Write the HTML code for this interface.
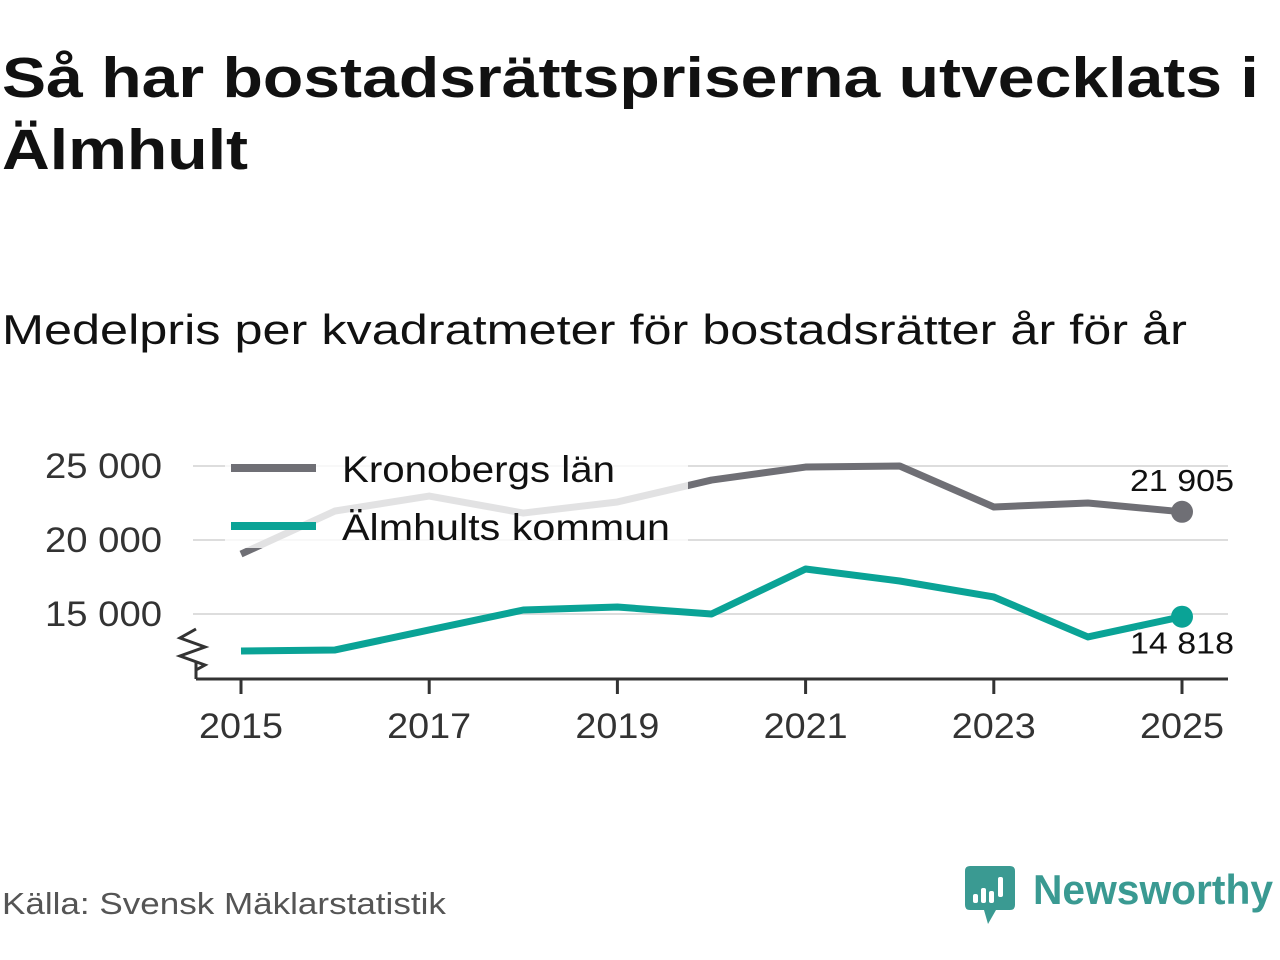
<!DOCTYPE html>
<html><head><meta charset="utf-8">
<style>
body{margin:0;width:1280px;height:960px;background:#fff;font-family:"Liberation Sans",sans-serif;overflow:hidden;position:relative}
#title{position:absolute;left:2px;top:42px;font-size:57px;font-weight:bold;line-height:72px;color:#111;transform:scaleX(1.16);transform-origin:0 0;white-space:nowrap}
#sub{position:absolute;left:2px;top:306px;font-size:42px;color:#111;transform:scaleX(1.2);transform-origin:0 0;white-space:nowrap}
#src{position:absolute;left:2px;top:886px;font-size:31px;color:#555;transform:scaleX(1.13);transform-origin:0 0;white-space:nowrap}
svg{position:absolute;left:0;top:0}
</style></head><body>
<div id="title">Så har bostadsrättspriserna utvecklats i<br>Älmhult</div>
<div id="sub">Medelpris per kvadratmeter för bostadsrätter år för år</div>
<div id="src">Källa: Svensk Mäklarstatistik</div>
<svg id="chart" width="1280" height="960"></svg>
<script>
const years=[2015,2016,2017,2018,2019,2020,2021,2022,2023,2024,2025];
const kronoberg=[19050,21960,22970,21820,22570,24050,24930,25000,22230,22500,21905];
const almhult=[12500,12570,13920,15270,15470,15000,18040,17230,16150,13450,14818];
const yTicks=[15000,20000,25000];
const yTickLabels=["15 000","20 000","25 000"];
const xTicks=[2015,2017,2019,2021,2023,2025];
const endLabels=["21 905","14 818"];
const NS="http://www.w3.org/2000/svg";
const svg=document.getElementById('chart');
const x=v=>241+(v-2015)*94.1;
const y=v=>540-(v-20000)*0.0148;
function mk(t,a,p){const e=document.createElementNS(NS,t);for(const k in a)e.setAttribute(k,a[k]);(p||svg).appendChild(e);return e;}
yTicks.forEach((t,i)=>{
 const g=mk('line',{x1:193,x2:1228,y1:y(t),y2:y(t),stroke:'#ddd','stroke-width':2});
 
 
 const l=mk('text',{x:162,y:y(t)+12,'text-anchor':'end','font-size':35,fill:'#333',textLength:117,lengthAdjust:'spacingAndGlyphs'});l.textContent=yTickLabels[i];
 
 
});
const ax=mk('path',{d:'M196 679H1228',stroke:'#333','stroke-width':3,fill:'none'});


const br=mk('path',{d:'M196 679V661M196 629L180 638L205 647L180 656L205 665L196 670',stroke:'#333','stroke-width':3,fill:'none'});


xTicks.forEach(t=>{
 const tk=mk('line',{x1:x(t),x2:x(t),y1:679,y2:694,stroke:'#333','stroke-width':3});
 
 
 const l=mk('text',{x:x(t),y:738,'text-anchor':'middle','font-size':35,fill:'#333',textLength:84,lengthAdjust:'spacingAndGlyphs'});l.textContent=t;
 
 
});
function line(vals,col,name){
 const p=mk('polyline',{points:vals.map((v,i)=>x(years[i])+','+y(v)).join(' '),stroke:col,'stroke-width':7,fill:'none','stroke-linejoin':'round'});
 
 
 const n=vals.length-1;
 const c=mk('circle',{cx:x(years[n]),cy:y(vals[n]),r:11,fill:col});
 
 
}
line(kronoberg,'#6f6f75','line-kronobergs-lan');
line(almhult,'#0aa396','line-almhults-kommun');
const lb=mk('rect',{x:225,y:448,width:463,height:100,fill:'#fff','fill-opacity':0.8});


const lg1=mk('line',{x1:231,x2:316,y1:468,y2:468,stroke:'#6f6f75','stroke-width':8});


const lg2=mk('line',{x1:231,x2:316,y1:526,y2:526,stroke:'#0aa396','stroke-width':8});


const t1=mk('text',{x:342,y:482,'font-size':37,fill:'#111',textLength:273,lengthAdjust:'spacingAndGlyphs'});t1.textContent='Kronobergs län';


const t2=mk('text',{x:342,y:540,'font-size':37,fill:'#111',textLength:328,lengthAdjust:'spacingAndGlyphs'});t2.textContent='Älmhults kommun';


const e1=mk('text',{x:1182,y:y(kronoberg[10])-21,'text-anchor':'middle','font-size':31,fill:'#111',textLength:104,lengthAdjust:'spacingAndGlyphs'});e1.textContent=endLabels[0];


const e2=mk('text',{x:1182,y:y(almhult[10])+37,'text-anchor':'middle','font-size':31,fill:'#111',stroke:'#fff','stroke-width':6,'paint-order':'stroke',textLength:104,lengthAdjust:'spacingAndGlyphs'});e2.textContent=endLabels[1];


const lgG=mk('g',{});


mk('path',{d:'M970 866H1010Q1015 866 1015 871V905Q1015 910 1010 910H996L988 924L984 910H970Q965 910 965 905V871Q965 866 970 866Z',fill:'#3a9a92'},lgG);
[[973,894,5,9],[981,888,5,15],[989,891,5,12],[998,877,5,20]].forEach(r=>mk('rect',{x:r[0],y:r[1],width:r[2],height:r[3],fill:'#fff',rx:2},lgG));
const lt=mk('text',{x:1033,y:904,'font-size':42,fill:'#3a9a92','font-weight':'bold',textLength:240,lengthAdjust:'spacingAndGlyphs'},lgG);lt.textContent='Newsworthy';
</script>
</body></html>
